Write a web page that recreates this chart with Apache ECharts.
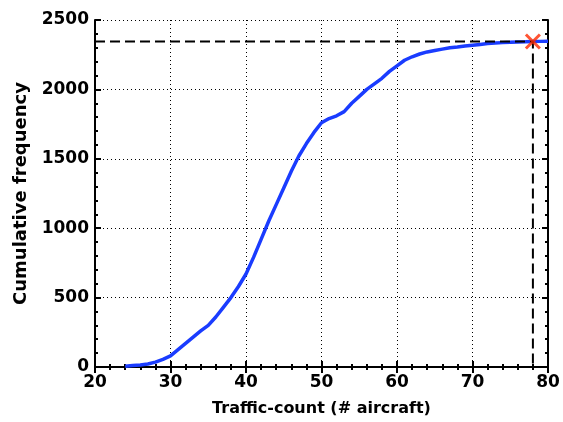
<!DOCTYPE html>
<html><head><meta charset="utf-8">
<script src="https://cdn.jsdelivr.net/npm/echarts@6/dist/echarts.min.js"></script>
<style>html,body{margin:0;padding:0;background:#fff}#c{width:563px;height:422px}</style>
</head><body><div id="c"></div>
<script>
const trafficCount = [24,25,26,27,28,29,30,31,32,33,34,35,36,37,38,39,40,41,42,43,44,45,46,47,48,49,50,51,52,53,54,55,56,57,58,59,60,61,62,63,64,65,66,67,68,69,70,71,72,73,74,75,76,77,78,79,80];
const cumFreq = [5,10,15,22,35,55,80,125,170,215,260,300,360,430,500,580,670,790,920,1050,1170,1290,1410,1520,1610,1690,1760,1790,1810,1840,1900,1950,2000,2040,2080,2130,2170,2210,2235,2255,2270,2280,2290,2300,2305,2312,2318,2324,2330,2334,2337,2339,2342,2343,2345,2346,2347];
const markerX = 78;
const markerY = 2345;
const xTicks = [20,30,40,50,60,70,80];
const yTicks = [0,500,1000,1500,2000,2500];
const xLabel = 'Traffic-count (# aircraft)';
const yLabel = 'Cumulative frequency';

const font = {fontFamily:'DejaVu Sans', fontWeight:'bold', color:'#000'};
const chart = echarts.init(document.getElementById('c'));
const tickStyle = {show:true,inside:true,length:6,lineStyle:{color:'#000',width:2}};
const minorStyle = {show:true,splitNumber:5,length:3,lineStyle:{color:'#000',width:2}};
const lineStyle = {show:true,lineStyle:{color:'#000',width:2}};
const commonX = {type:'value', min:xTicks[0], max:xTicks[xTicks.length-1], interval:10,
  axisLine:lineStyle, axisTick:tickStyle, minorTick:minorStyle};
const commonY = {type:'value', min:yTicks[0], max:yTicks[yTicks.length-1], interval:500,
  axisLine:lineStyle, axisTick:tickStyle, minorTick:minorStyle};
chart.setOption({
  animation:false,
  grid:{left:95,right:15,top:20,bottom:53,show:false},
  xAxis:[
    Object.assign({}, commonX, {position:'bottom',
      axisLabel:Object.assign({fontSize:17,margin:7},font),
      splitLine:{show:true,lineStyle:{color:'#000',type:[1,3],width:1}},
      name:xLabel,nameLocation:'middle',nameGap:34,nameTextStyle:Object.assign({fontSize:16},font)}),
    Object.assign({}, commonX, {position:'top',axisLabel:{show:false},splitLine:{show:false}})
  ],
  yAxis:[
    Object.assign({}, commonY, {position:'left',
      axisLabel:Object.assign({fontSize:17,margin:6,formatter:v=>String(v)},font),
      splitLine:{show:true,lineStyle:{color:'#000',type:[1,3],width:1}},
      name:yLabel,nameLocation:'middle',nameGap:65,nameTextStyle:Object.assign({fontSize:18},font)}),
    Object.assign({}, commonY, {position:'right',axisLabel:{show:false},splitLine:{show:false}})
  ],
  series:[
    {type:'line', data:trafficCount.map((x,i)=>[x,cumFreq[i]]), showSymbol:false, smooth:false,
     lineStyle:{color:'#1a3cff',width:3.5}, z:3},
    {type:'line', data:[[xTicks[0],markerY],[markerX,markerY],[markerX,yTicks[0]]], showSymbol:false,
     lineStyle:{color:'#000',width:2,type:[10,5]}, z:4},
    {type:'scatter', data:[[markerX,markerY]], symbol:'path://M0,0L10,10M10,0L0,10', symbolSize:14,
     itemStyle:{color:'rgba(0,0,0,0)',borderColor:'#ff2a00',borderWidth:3}, z:5}
  ]
});
</script></body></html>
